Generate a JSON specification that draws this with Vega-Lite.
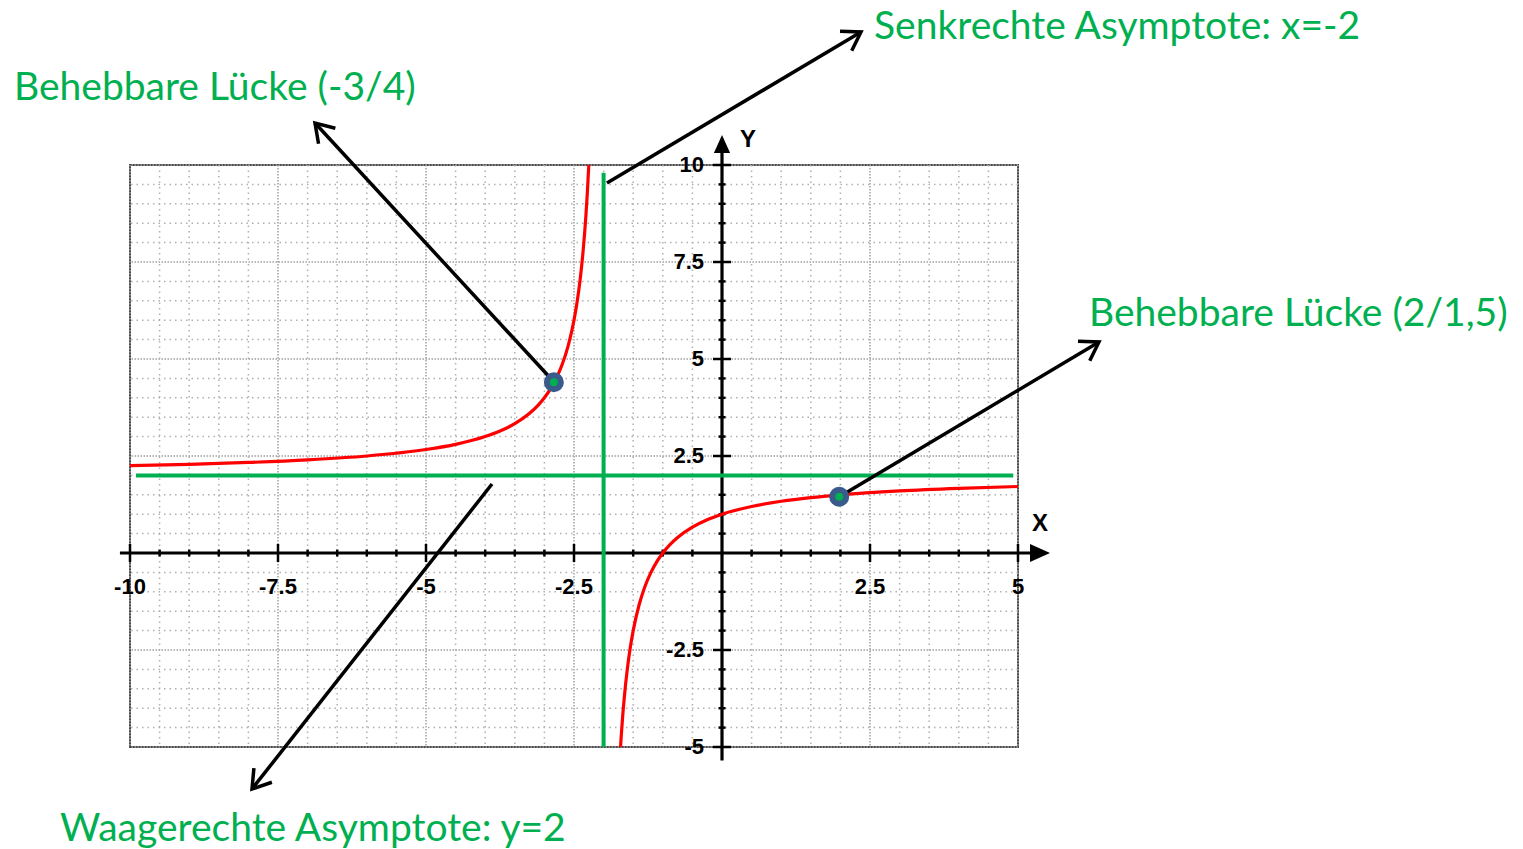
{
  "$schema": "https://vega.github.io/schema/vega-lite/v6.json",
  "width": 888,
  "height": 582,
  "autosize": "none",
  "padding": {"left": 130, "top": 165, "right": 505, "bottom": 102},
  "background": "white",
  "config": {"view": {"stroke": "#4a4a4a", "strokeWidth": 2}, "axis": {"disable": true}},
  "datasets": {
    "xs": [
      {"v": -10, "kind": "major"}, {"v": -9.5, "kind": "minor"}, {"v": -9, "kind": "minor"}, {"v": -8.5, "kind": "minor"}, {"v": -8, "kind": "minor"},
      {"v": -7.5, "kind": "major"}, {"v": -7, "kind": "minor"}, {"v": -6.5, "kind": "minor"}, {"v": -6, "kind": "minor"}, {"v": -5.5, "kind": "minor"},
      {"v": -5, "kind": "major"}, {"v": -4.5, "kind": "minor"}, {"v": -4, "kind": "minor"}, {"v": -3.5, "kind": "minor"}, {"v": -3, "kind": "minor"},
      {"v": -2.5, "kind": "major"}, {"v": -2, "kind": "minor"}, {"v": -1.5, "kind": "minor"}, {"v": -1, "kind": "minor"}, {"v": -0.5, "kind": "minor"},
      {"v": 0.5, "kind": "minor"}, {"v": 1, "kind": "minor"}, {"v": 1.5, "kind": "minor"}, {"v": 2, "kind": "minor"},
      {"v": 2.5, "kind": "major"}, {"v": 3, "kind": "minor"}, {"v": 3.5, "kind": "minor"}, {"v": 4, "kind": "minor"}, {"v": 4.5, "kind": "minor"},
      {"v": 5, "kind": "major"}
    ],
    "ys": [
      {"v": -5, "kind": "major"}, {"v": -4.5, "kind": "minor"}, {"v": -4, "kind": "minor"}, {"v": -3.5, "kind": "minor"}, {"v": -3, "kind": "minor"},
      {"v": -2.5, "kind": "major"}, {"v": -2, "kind": "minor"}, {"v": -1.5, "kind": "minor"}, {"v": -1, "kind": "minor"}, {"v": -0.5, "kind": "minor"},
      {"v": 0.5, "kind": "minor"}, {"v": 1, "kind": "minor"}, {"v": 1.5, "kind": "minor"}, {"v": 2, "kind": "minor"},
      {"v": 2.5, "kind": "major"}, {"v": 3, "kind": "minor"}, {"v": 3.5, "kind": "minor"}, {"v": 4, "kind": "minor"}, {"v": 4.5, "kind": "minor"},
      {"v": 5, "kind": "major"}, {"v": 5.5, "kind": "minor"}, {"v": 6, "kind": "minor"}, {"v": 6.5, "kind": "minor"}, {"v": 7, "kind": "minor"},
      {"v": 7.5, "kind": "major"}, {"v": 8, "kind": "minor"}, {"v": 8.5, "kind": "minor"}, {"v": 9, "kind": "minor"}, {"v": 9.5, "kind": "minor"},
      {"v": 10, "kind": "major"}
    ],
    "xlabels": [
      {"x": -10, "label": "-10"}, {"x": -7.5, "label": "-7.5"}, {"x": -5, "label": "-5"}, {"x": -2.5, "label": "-2.5"}, {"x": 2.5, "label": "2.5"}, {"x": 5, "label": "5"}
    ],
    "ylabels": [
      {"y": 10, "label": "10"}, {"y": 7.5, "label": "7.5"}, {"y": 5, "label": "5"}, {"y": 2.5, "label": "2.5"}, {"y": -2.5, "label": "-2.5"}, {"y": -5, "label": "-5"}
    ],
    "axes": [
      {"x": -10.17, "y": 0, "x2": 5.26, "y2": 0},
      {"x": 0, "y": -5.35, "x2": 0, "y2": 10.4}
    ],
    "curve": [
      {"branch": "left", "x": -10, "y": 2.25}, {"branch": "left", "x": -9, "y": 2.2857}, {"branch": "left", "x": -8, "y": 2.3333},
      {"branch": "left", "x": -7, "y": 2.4}, {"branch": "left", "x": -6, "y": 2.5}, {"branch": "left", "x": -5, "y": 2.6667},
      {"branch": "left", "x": -4.5, "y": 2.8}, {"branch": "left", "x": -4, "y": 3}, {"branch": "left", "x": -3.75, "y": 3.1429},
      {"branch": "left", "x": -3.5, "y": 3.3333}, {"branch": "left", "x": -3.25, "y": 3.6}, {"branch": "left", "x": -3.1, "y": 3.8182},
      {"branch": "left", "x": -3, "y": 4}, {"branch": "left", "x": -2.9, "y": 4.2222}, {"branch": "left", "x": -2.8, "y": 4.5},
      {"branch": "left", "x": -2.7, "y": 4.8571}, {"branch": "left", "x": -2.6, "y": 5.3333}, {"branch": "left", "x": -2.5, "y": 6},
      {"branch": "left", "x": -2.45, "y": 6.4444}, {"branch": "left", "x": -2.4, "y": 7}, {"branch": "left", "x": -2.35, "y": 7.7143},
      {"branch": "left", "x": -2.3, "y": 8.6667}, {"branch": "left", "x": -2.275, "y": 9.2727}, {"branch": "left", "x": -2.25, "y": 10},
      {"branch": "right", "x": -1.714, "y": -5}, {"branch": "right", "x": -1.7, "y": -4.6667}, {"branch": "right", "x": -1.675, "y": -4.1538},
      {"branch": "right", "x": -1.65, "y": -3.7143}, {"branch": "right", "x": -1.6, "y": -3}, {"branch": "right", "x": -1.55, "y": -2.4444},
      {"branch": "right", "x": -1.5, "y": -2}, {"branch": "right", "x": -1.4, "y": -1.3333}, {"branch": "right", "x": -1.3, "y": -0.8571},
      {"branch": "right", "x": -1.2, "y": -0.5}, {"branch": "right", "x": -1.1, "y": -0.2222}, {"branch": "right", "x": -1, "y": 0},
      {"branch": "right", "x": -0.875, "y": 0.2222}, {"branch": "right", "x": -0.75, "y": 0.4}, {"branch": "right", "x": -0.5, "y": 0.6667},
      {"branch": "right", "x": -0.25, "y": 0.8571}, {"branch": "right", "x": 0, "y": 1}, {"branch": "right", "x": 0.5, "y": 1.2},
      {"branch": "right", "x": 1, "y": 1.3333}, {"branch": "right", "x": 1.5, "y": 1.4286}, {"branch": "right", "x": 2, "y": 1.5},
      {"branch": "right", "x": 3, "y": 1.6}, {"branch": "right", "x": 4, "y": 1.6667}, {"branch": "right", "x": 5, "y": 1.7143}
    ],
    "asym": [
      {"x": -2, "y": 9.8, "x2": -2, "y2": -5},
      {"x": -9.9, "y": 2, "x2": 4.92, "y2": 2}
    ],
    "holes": [
      {"x": -2.84, "y": 4.4},
      {"x": 1.98, "y": 1.45}
    ],
    "arrows": [
      {"id": 1, "x": -2.838, "y": 4.407, "x2": -6.875, "y2": 11.082},
      {"id": 2, "x": -1.943, "y": 9.536, "x2": 2.348, "y2": 13.428},
      {"id": 3, "x": 1.976, "y": 1.443, "x2": 6.368, "y2": 5.438},
      {"id": 4, "x": -3.885, "y": 1.778, "x2": -7.939, "y2": -6.082}
    ],
    "notes": [
      {"x": -11.959, "y": 11.688, "text": "Behebbare Lücke (-3/4)"},
      {"x": 2.568, "y": 13.235, "text": "Senkrechte Asymptote: x=-2"},
      {"x": 6.199, "y": 5.858, "text": "Behebbare Lücke (2/1,5)"},
      {"x": -11.182, "y": -7.415, "text": "Waagerechte Asymptote: y=2"}
    ],
    "axisnames": [
      {"x": 0.439, "y": 10.644, "text": "Y"},
      {"x": 5.372, "y": 0.747, "text": "X"}
    ]
  },
  "layer": [
    {
      "data": {"name": "xs"},
      "transform": [{"filter": "datum.kind === 'minor'"}],
      "mark": {"type": "rule", "color": "#b0b0b0", "strokeWidth": 1.5, "strokeDash": [1.5, 4]},
      "encoding": {"x": {"field": "v", "type": "quantitative", "scale": {"domain": [-10, 5], "nice": false, "zero": false}, "axis": null}}
    },
    {
      "data": {"name": "xs"},
      "transform": [{"filter": "datum.kind === 'major'"}],
      "mark": {"type": "rule", "color": "#a0a0a0", "strokeWidth": 1.5, "strokeDash": [1.5, 1.5]},
      "encoding": {"x": {"field": "v", "type": "quantitative", "scale": {"domain": [-10, 5], "nice": false, "zero": false}, "axis": null}}
    },
    {
      "data": {"name": "ys"},
      "transform": [{"filter": "datum.kind === 'minor'"}],
      "mark": {"type": "rule", "color": "#b0b0b0", "strokeWidth": 1.5, "strokeDash": [1.5, 4]},
      "encoding": {"y": {"field": "v", "type": "quantitative", "scale": {"domain": [-5, 10], "nice": false, "zero": false}, "axis": null}}
    },
    {
      "data": {"name": "ys"},
      "transform": [{"filter": "datum.kind === 'major'"}],
      "mark": {"type": "rule", "color": "#a0a0a0", "strokeWidth": 1.5, "strokeDash": [1.5, 1.5]},
      "encoding": {"y": {"field": "v", "type": "quantitative", "scale": {"domain": [-5, 10], "nice": false, "zero": false}, "axis": null}}
    },
    {
      "data": {"name": "axes"},
      "mark": {"type": "rule", "color": "black", "strokeWidth": 3.2},
      "encoding": {
        "x": {"field": "x", "type": "quantitative", "scale": {"domain": [-10, 5], "nice": false, "zero": false}, "axis": null},
        "y": {"field": "y", "type": "quantitative", "scale": {"domain": [-5, 10], "nice": false, "zero": false}, "axis": null},
        "x2": {"field": "x2"},
        "y2": {"field": "y2"}
      }
    },
    {
      "data": {"values": [{"x": 5.372, "y": 0}]},
      "mark": {"type": "point", "shape": "M1,0L-1,-0.9L-1,0.9Z", "size": 400, "filled": true, "color": "black", "opacity": 1},
      "encoding": {
        "x": {"field": "x", "type": "quantitative", "scale": {"domain": [-10, 5], "nice": false, "zero": false}, "axis": null},
        "y": {"field": "y", "type": "quantitative", "scale": {"domain": [-5, 10], "nice": false, "zero": false}, "axis": null}
      }
    },
    {
      "data": {"values": [{"x": 0, "y": 10.541}]},
      "mark": {"type": "point", "shape": "M0,-1L0.9,1L-0.9,1Z", "size": 324, "filled": true, "color": "black", "opacity": 1},
      "encoding": {
        "x": {"field": "x", "type": "quantitative", "scale": {"domain": [-10, 5], "nice": false, "zero": false}, "axis": null},
        "y": {"field": "y", "type": "quantitative", "scale": {"domain": [-5, 10], "nice": false, "zero": false}, "axis": null}
      }
    },
    {
      "data": {"name": "xs"},
      "transform": [{"filter": "datum.kind === 'minor'"}],
      "mark": {"type": "tick", "orient": "vertical", "size": 7, "thickness": 2.5, "color": "black", "opacity": 1},
      "encoding": {
        "x": {"field": "v", "type": "quantitative", "scale": {"domain": [-10, 5], "nice": false, "zero": false}, "axis": null},
        "y": {"datum": 0, "type": "quantitative", "scale": {"domain": [-5, 10], "nice": false, "zero": false}, "axis": null}
      }
    },
    {
      "data": {"name": "xs"},
      "transform": [{"filter": "datum.kind === 'major'"}],
      "mark": {"type": "tick", "orient": "vertical", "size": 18, "thickness": 2.5, "color": "black", "opacity": 1},
      "encoding": {
        "x": {"field": "v", "type": "quantitative", "scale": {"domain": [-10, 5], "nice": false, "zero": false}, "axis": null},
        "y": {"datum": 0, "type": "quantitative", "scale": {"domain": [-5, 10], "nice": false, "zero": false}, "axis": null}
      }
    },
    {
      "data": {"name": "ys"},
      "transform": [{"filter": "datum.kind === 'minor'"}],
      "mark": {"type": "tick", "orient": "horizontal", "size": 7, "thickness": 2.5, "color": "black", "opacity": 1},
      "encoding": {
        "y": {"field": "v", "type": "quantitative", "scale": {"domain": [-5, 10], "nice": false, "zero": false}, "axis": null},
        "x": {"datum": 0, "type": "quantitative", "scale": {"domain": [-10, 5], "nice": false, "zero": false}, "axis": null}
      }
    },
    {
      "data": {"name": "ys"},
      "transform": [{"filter": "datum.kind === 'major'"}],
      "mark": {"type": "tick", "orient": "horizontal", "size": 18, "thickness": 2.5, "color": "black", "opacity": 1},
      "encoding": {
        "y": {"field": "v", "type": "quantitative", "scale": {"domain": [-5, 10], "nice": false, "zero": false}, "axis": null},
        "x": {"datum": 0, "type": "quantitative", "scale": {"domain": [-10, 5], "nice": false, "zero": false}, "axis": null}
      }
    },
    {
      "data": {"name": "xlabels"},
      "mark": {"type": "text", "font": "Liberation Sans", "fontWeight": "bold", "fontSize": 22, "align": "center", "baseline": "alphabetic", "dy": 41, "color": "black"},
      "encoding": {
        "x": {"field": "x", "type": "quantitative", "scale": {"domain": [-10, 5], "nice": false, "zero": false}, "axis": null},
        "y": {"datum": 0, "type": "quantitative", "scale": {"domain": [-5, 10], "nice": false, "zero": false}, "axis": null},
        "text": {"field": "label"}
      }
    },
    {
      "data": {"name": "ylabels"},
      "mark": {"type": "text", "font": "Liberation Sans", "fontWeight": "bold", "fontSize": 22, "align": "right", "baseline": "middle", "dx": -18, "color": "black"},
      "encoding": {
        "y": {"field": "y", "type": "quantitative", "scale": {"domain": [-5, 10], "nice": false, "zero": false}, "axis": null},
        "x": {"datum": 0, "type": "quantitative", "scale": {"domain": [-10, 5], "nice": false, "zero": false}, "axis": null},
        "text": {"field": "label"}
      }
    },
    {
      "data": {"name": "axisnames"},
      "mark": {"type": "text", "font": "Liberation Sans", "fontWeight": "bold", "fontSize": 24, "align": "center", "baseline": "middle", "color": "black"},
      "encoding": {
        "x": {"field": "x", "type": "quantitative", "scale": {"domain": [-10, 5], "nice": false, "zero": false}, "axis": null},
        "y": {"field": "y", "type": "quantitative", "scale": {"domain": [-5, 10], "nice": false, "zero": false}, "axis": null},
        "text": {"field": "text"}
      }
    },
    {
      "data": {"name": "curve"},
      "mark": {"type": "line", "color": "#ff0000", "strokeWidth": 3.2, "interpolate": "monotone"},
      "encoding": {
        "x": {"field": "x", "type": "quantitative", "scale": {"domain": [-10, 5], "nice": false, "zero": false}, "axis": null},
        "y": {"field": "y", "type": "quantitative", "scale": {"domain": [-5, 10], "nice": false, "zero": false}, "axis": null},
        "detail": {"field": "branch", "type": "nominal"}
      }
    },
    {
      "data": {"name": "asym"},
      "mark": {"type": "rule", "color": "#00b050", "strokeWidth": 4},
      "encoding": {
        "x": {"field": "x", "type": "quantitative", "scale": {"domain": [-10, 5], "nice": false, "zero": false}, "axis": null},
        "y": {"field": "y", "type": "quantitative", "scale": {"domain": [-5, 10], "nice": false, "zero": false}, "axis": null},
        "x2": {"field": "x2"},
        "y2": {"field": "y2"}
      }
    },
    {
      "data": {"name": "arrows"},
      "mark": {"type": "rule", "color": "black", "strokeWidth": 3.5},
      "encoding": {
        "x": {"field": "x", "type": "quantitative", "scale": {"domain": [-10, 5], "nice": false, "zero": false}, "axis": null},
        "y": {"field": "y", "type": "quantitative", "scale": {"domain": [-5, 10], "nice": false, "zero": false}, "axis": null},
        "x2": {"field": "x2"},
        "y2": {"field": "y2"}
      }
    },
    {
      "data": {"name": "arrows"},
      "transform": [{"filter": "datum.id === 1"}],
      "mark": {"type": "point", "shape": "M-1,-0.65L0,0L-1,0.65", "size": 1240, "filled": false, "stroke": "black", "strokeWidth": 3.5, "opacity": 1, "angle": 227.3},
      "encoding": {
        "x": {"field": "x2", "type": "quantitative", "scale": {"domain": [-10, 5], "nice": false, "zero": false}, "axis": null},
        "y": {"field": "y2", "type": "quantitative", "scale": {"domain": [-5, 10], "nice": false, "zero": false}, "axis": null}
      }
    },
    {
      "data": {"name": "arrows"},
      "transform": [{"filter": "datum.id === 2"}],
      "mark": {"type": "point", "shape": "M-1,-0.65L0,0L-1,0.65", "size": 1240, "filled": false, "stroke": "black", "strokeWidth": 3.5, "opacity": 1, "angle": 329.3},
      "encoding": {
        "x": {"field": "x2", "type": "quantitative", "scale": {"domain": [-10, 5], "nice": false, "zero": false}, "axis": null},
        "y": {"field": "y2", "type": "quantitative", "scale": {"domain": [-5, 10], "nice": false, "zero": false}, "axis": null}
      }
    },
    {
      "data": {"name": "arrows"},
      "transform": [{"filter": "datum.id === 3"}],
      "mark": {"type": "point", "shape": "M-1,-0.65L0,0L-1,0.65", "size": 1240, "filled": false, "stroke": "black", "strokeWidth": 3.5, "opacity": 1, "angle": 329.2},
      "encoding": {
        "x": {"field": "x2", "type": "quantitative", "scale": {"domain": [-10, 5], "nice": false, "zero": false}, "axis": null},
        "y": {"field": "y2", "type": "quantitative", "scale": {"domain": [-5, 10], "nice": false, "zero": false}, "axis": null}
      }
    },
    {
      "data": {"name": "arrows"},
      "transform": [{"filter": "datum.id === 4"}],
      "mark": {"type": "point", "shape": "M-1,-0.65L0,0L-1,0.65", "size": 1240, "filled": false, "stroke": "black", "strokeWidth": 3.5, "opacity": 1, "angle": 128.2},
      "encoding": {
        "x": {"field": "x2", "type": "quantitative", "scale": {"domain": [-10, 5], "nice": false, "zero": false}, "axis": null},
        "y": {"field": "y2", "type": "quantitative", "scale": {"domain": [-5, 10], "nice": false, "zero": false}, "axis": null}
      }
    },
    {
      "data": {"name": "holes"},
      "mark": {"type": "point", "shape": "circle", "size": 196, "filled": true, "fill": "#00b050", "stroke": "#3a5a8c", "strokeWidth": 6, "opacity": 1},
      "encoding": {
        "x": {"field": "x", "type": "quantitative", "scale": {"domain": [-10, 5], "nice": false, "zero": false}, "axis": null},
        "y": {"field": "y", "type": "quantitative", "scale": {"domain": [-5, 10], "nice": false, "zero": false}, "axis": null}
      }
    },
    {
      "data": {"name": "notes"},
      "mark": {"type": "text", "font": "Lato", "fontSize": 39, "align": "left", "baseline": "alphabetic", "color": "#00b050"},
      "encoding": {
        "x": {"field": "x", "type": "quantitative", "scale": {"domain": [-10, 5], "nice": false, "zero": false}, "axis": null},
        "y": {"field": "y", "type": "quantitative", "scale": {"domain": [-5, 10], "nice": false, "zero": false}, "axis": null},
        "text": {"field": "text"}
      }
    }
  ]
}
